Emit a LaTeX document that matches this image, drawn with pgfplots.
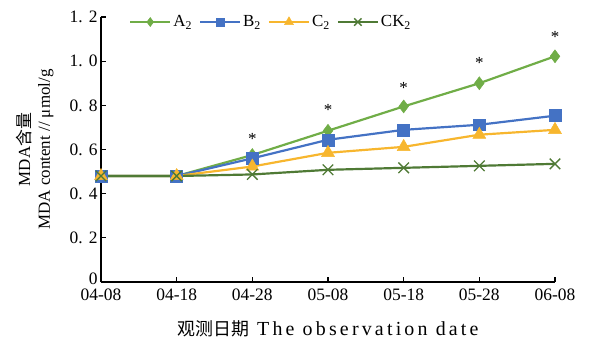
\documentclass[border=0pt]{standalone}
\usepackage{fontspec}
\setmainfont{Liberation Serif}
\newfontfamily\cjk{Noto Sans CJK SC}
\newfontfamily\spaced[LetterSpace=16]{Liberation Serif}
\usepackage{pgfplots}
\pgfplotsset{compat=1.18}
\definecolor{cA}{RGB}{112,173,71}
\definecolor{cB}{RGB}{68,114,196}
\definecolor{cC}{RGB}{247,182,46}
\definecolor{cK}{RGB}{79,122,53}
\begin{document}
\begin{tikzpicture}
\useasboundingbox (-101bp,-62bp) rectangle (489bp,282bp);
\begin{axis}[
  at={(0,0)}, anchor=south west,
  scale only axis, width=454bp, height=265bp,
  xmin=0, xmax=6, ymin=0, ymax=1.2,
  axis lines=left, axis line style={line width=1.4pt,-},
  xtick={0,1,2,3,4,5,6},
  xticklabels={04-08,04-18,04-28,05-08,05-18,05-28,06-08},
  ytick={0,0.2,0.4,0.6,0.8,1.0,1.2},
  yticklabels={{\raisebox{7bp}{0}},{0.\hspace{.35em}2},{0.\hspace{.35em}4},{0.\hspace{.35em}6},{0.\hspace{.35em}8},{1.\hspace{.35em}0},{1.\hspace{.35em}2}},
  tick align=inside, major tick length=5bp,
  tick style={line width=1.2pt,black},
  ticklabel style={font=\fontsize{17.5}{17.5}\selectfont},
  xticklabel style={yshift=-3bp},
  yticklabel style={inner ysep=0pt},
  clip=false,
  xlabel={{\cjk\fontsize{18}{18}\selectfont 观测日期}\hspace{8bp}{\spaced\fontsize{20}{20}\selectfont The observation date}},
  xlabel style={at={(axis description cs:0.5,-0.177)}, anchor=center},
  ylabel={MDA{\cjk 含量}\\MDA content // μmol/g},
  ylabel style={at={(axis description cs:-0.146,0.5)}, anchor=center, align=center, font=\fontsize{17}{20}\selectfont},
  legend style={at={(0.055,0.981)}, anchor=west, draw=none, fill=none, legend columns=4,
    font=\fontsize{17}{17}\selectfont,
    /tikz/every even column/.append style={column sep=5bp}},
  legend image code/.code={\draw[mark repeat=2,mark phase=2,#1] plot coordinates {(0bp,0bp) (20bp,0bp) (40bp,0bp)};},
  legend image post style={/tikz/every mark/.append style={scale=0.7}},
]
\addplot[cA, line width=2.2pt, mark=diamond*, mark size=6.5pt, mark options={solid, fill=cA, line width=0.5pt}]
  coordinates {(0,0.48) (1,0.48) (2,0.575) (3,0.685) (4,0.795) (5,0.900) (6,1.022)};
\addlegendentry{A\textsubscript{2}}
\addplot[cB, line width=2.2pt, mark=square*, mark size=6pt, mark options={solid, fill=cB, line width=0.5pt}]
  coordinates {(0,0.48) (1,0.48) (2,0.56) (3,0.644) (4,0.689) (5,0.712) (6,0.753)};
\addlegendentry{B\textsubscript{2}}
\addplot[cC, line width=2.2pt, mark=triangle*, mark size=7.5pt, mark options={solid, fill=cC, line width=0.5pt}]
  coordinates {(0,0.48) (1,0.48) (2,0.523) (3,0.585) (4,0.612) (5,0.667) (6,0.689)};
\addlegendentry{C\textsubscript{2}}
\addplot[cK, line width=2.2pt, mark=x, mark size=7.5pt, mark options={solid, line width=1.3pt}]
  coordinates {(0,0.48) (1,0.48) (2,0.487) (3,0.508) (4,0.517) (5,0.526) (6,0.535)};
\addlegendentry{CK\textsubscript{2}}
\addplot[draw=none, mark=none, forget plot, nodes near coords={*},
  every node near coord/.style={anchor=center, font=\fontsize{17}{17}\selectfont, inner sep=0pt}]
  coordinates {(2,0.650) (3,0.777) (4,0.877) (5,0.990) (6,1.108)};
\end{axis}
\end{tikzpicture}
\end{document}
